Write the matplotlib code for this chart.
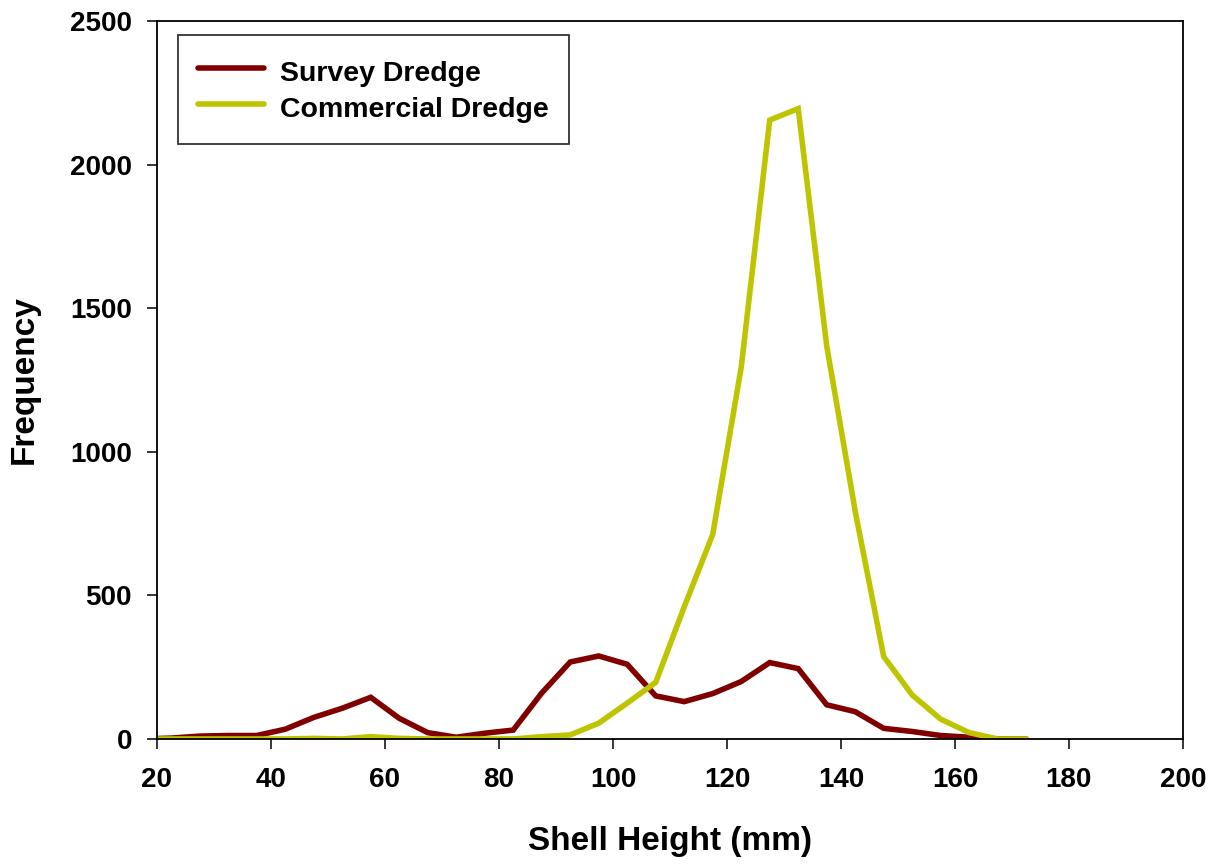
import numpy as np
import matplotlib.pyplot as plt

plt.rcParams['font.family'] = ['Liberation Sans', 'DejaVu Sans']
plt.rcParams['font.weight'] = 'bold'

# shell height bin midpoints (mm)
height = [17.5, 22.5, 27.5, 32.5, 37.5, 42.5, 47.5, 52.5, 57.5, 62.5, 67.5,
          72.5, 77.5, 82.5, 87.5, 92.5, 97.5, 102.5, 107.5, 112.5, 117.5,
          122.5, 127.5, 132.5, 137.5, 142.5, 147.5, 152.5, 157.5, 162.5,
          167.5, 172.5]

survey = [0, 3, 10, 12, 12, 34, 75, 107, 145, 72, 22,
          6, 20, 31, 160, 268, 289, 260, 150, 130, 158,
          200, 266, 245, 119, 95, 37, 26, 12, 6,
          0, 0]

commercial = [0, 0, 0, 0, 0, 0, 2, 0, 8, 2, 0,
              0, 0, 0, 8, 14, 55, 125, 197, 460, 712,
              1294, 2155, 2195, 1369, 793, 287, 153, 69, 22,
              0, 0]

fig = plt.figure(figsize=(12.17, 8.65), dpi=100)
ax = fig.add_axes([0.129, 0.1457, 0.843, 0.830])

ax.plot(height, survey, color="#800000", lw=4.0, solid_capstyle="round",
        solid_joinstyle="miter", label="Survey Dredge")
ax.plot(height, commercial, color="#bec400", lw=4.0, solid_capstyle="round",
        solid_joinstyle="miter", label="Commercial Dredge")

ax.set_xlim(20, 200)
ax.set_ylim(0, 2500)
ax.set_xticks(np.arange(20, 201, 20))
ax.set_yticks(np.arange(0, 2501, 500))

for s in ax.spines.values():
    s.set_linewidth(1.3)
ax.tick_params(direction="out", length=7, width=1.1, labelsize=20)
ax.tick_params(axis="x", pad=13)
ax.tick_params(axis="y", pad=11)

ax.set_xlabel("Shell Height (mm)", fontsize=24, fontweight="bold", labelpad=24)
ax.set_ylabel("Frequency", fontsize=24, fontweight="bold", labelpad=22)

leg = ax.legend(loc="upper left", bbox_to_anchor=(21/1026, 1-14/718),
                borderaxespad=0, fontsize=20.5, frameon=True, fancybox=False,
                handlelength=2.3, handleheight=1.4, handletextpad=0.55,
                labelspacing=0.08, borderpad=0.72)
leg.get_frame().set_edgecolor("black")
leg.get_frame().set_linewidth(1.3)

plt.savefig("out.png", dpi=100)
